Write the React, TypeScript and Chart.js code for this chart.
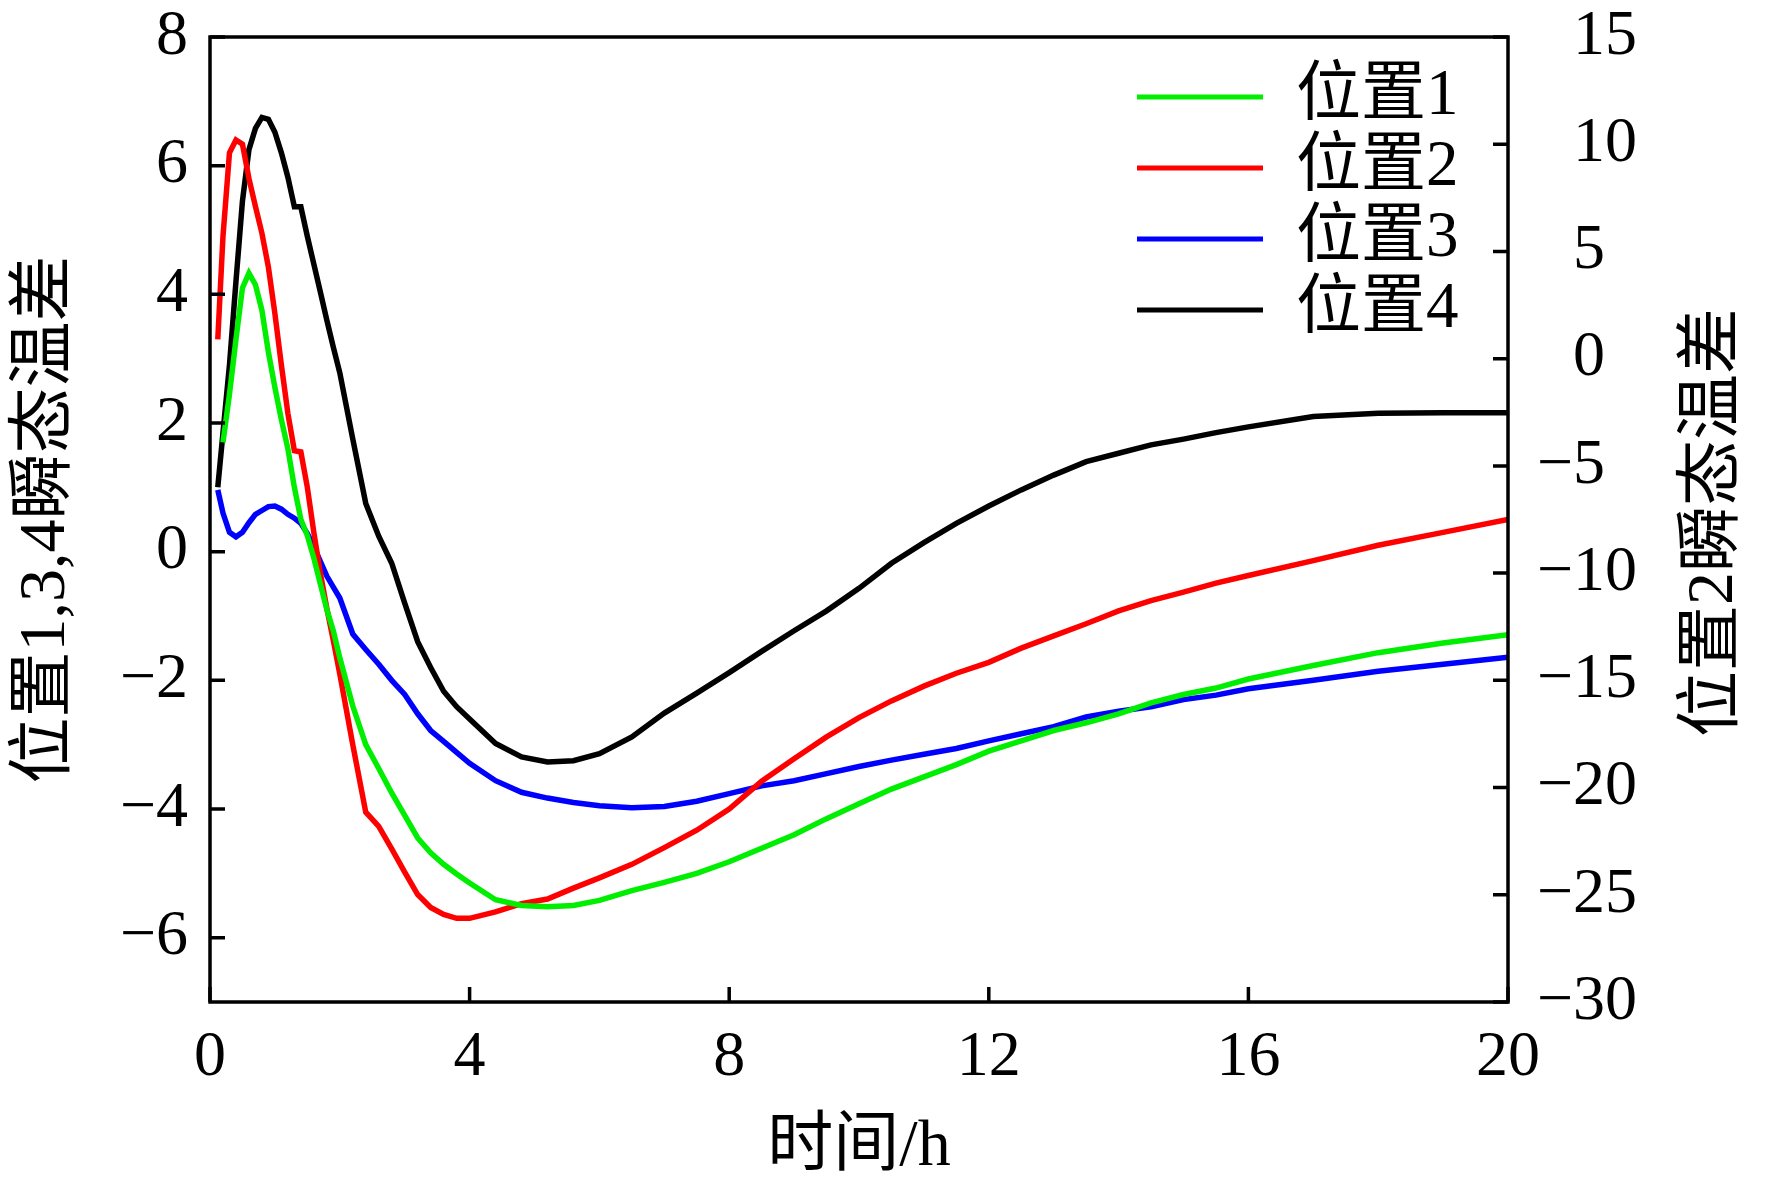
import React, { useEffect, useRef } from 'react';
import { Chart, registerables } from 'chart.js';

Chart.register(...registerables);

// time, h
const hours = [
    0.12, 0.2, 0.3, 0.4, 0.5, 0.6, 0.7, 0.8, 0.9, 1.0, 1.1, 1.2, 1.3, 1.4, 1.5, 1.6, 1.7, 1.8, 1.9, 2.0,
    2.2, 2.4, 2.6, 2.8, 3.0, 3.2, 3.4, 3.6, 3.8, 4.0,
    4.4, 4.8, 5.2, 5.6, 6.0,
    6.5, 7.0, 7.5, 8.0, 8.5, 9.0, 9.5, 10.0, 10.5, 11.0, 11.5, 12.0, 12.5, 13.0, 13.5, 14.0, 14.5, 15.0, 15.5, 16.0,
    17.0, 18.0, 19.0, 20.0,
];

// 位置1 (left axis)
const pos1 = [
    null, 1.7, 2.45, 3.3, 4.1, 4.33, 4.15, 3.75, 3.1, 2.55, 2.05, 1.6, 1.0, 0.5, 0.25, -0.1, -0.5, -0.9, -1.23, -1.65,
    -2.4, -3.0, -3.37, -3.75, -4.1, -4.45, -4.68, -4.86, -5.01, -5.15,
    -5.41, -5.5, -5.52, -5.5, -5.42,
    -5.27, -5.14, -5.0, -4.82, -4.61, -4.4, -4.15, -3.92, -3.69, -3.5, -3.31, -3.1, -2.94, -2.78, -2.66, -2.52, -2.35, -2.22, -2.12, -1.98,
    -1.77, -1.57, -1.42, -1.29,
];

// 位置2 (right axis)
const pos2 = [
    0.9, 5.7, 9.6, 10.2, 10.0, 8.4, 7.1, 5.85, 4.26, 2.1, -0.3, -2.55, -4.29, -4.35, -6.0, -8.1, -10.0, -11.64, -13.14, -14.7,
    -18.0, -21.15, -21.81, -22.86, -23.94, -24.99, -25.59, -25.92, -26.1, -26.1,
    -25.8, -25.41, -25.2, -24.69, -24.21,
    -23.58, -22.8, -21.99, -21.0, -19.7, -18.66, -17.64, -16.74, -15.96, -15.27, -14.67, -14.16, -13.5, -12.93, -12.36, -11.76, -11.28, -10.89, -10.47, -10.11,
    -9.42, -8.7, -8.1, -7.5,
];

// 位置3 (left axis)
const pos3 = [
    0.96, 0.6, 0.3, 0.23, 0.3, 0.45, 0.58, 0.64, 0.7, 0.71, 0.66, 0.58, 0.52, 0.44, 0.28, 0.08, -0.15, -0.38, -0.55, -0.72,
    -1.28, -1.52, -1.75, -2.0, -2.22, -2.52, -2.78, -2.95, -3.12, -3.29,
    -3.56, -3.74, -3.83, -3.9, -3.95,
    -3.98, -3.96, -3.88, -3.76, -3.64, -3.56, -3.45, -3.34, -3.24, -3.15, -3.06, -2.94, -2.83, -2.72, -2.57, -2.48, -2.41, -2.3, -2.23, -2.13,
    -2.0, -1.86, -1.75, -1.64,
];

// 位置4 (left axis)
const pos4 = [
    1.0, 1.85, 2.9, 4.2, 5.45, 6.25, 6.58, 6.75, 6.72, 6.52, 6.2, 5.82, 5.36, 5.36, 4.9, 4.47, 4.04, 3.6, 3.18, 2.78,
    1.75, 0.75, 0.24, -0.18, -0.8, -1.4, -1.8, -2.17, -2.41, -2.6,
    -2.98, -3.19, -3.27, -3.25, -3.14,
    -2.88, -2.51, -2.2, -1.88, -1.55, -1.23, -0.92, -0.57, -0.18, 0.14, 0.44, 0.71, 0.96, 1.19, 1.4, 1.53, 1.66, 1.75, 1.85, 1.94,
    2.1, 2.15, 2.16, 2.16,
];

const seriesNames = ['位置1', '位置2', '位置3', '位置4'];
const seriesColors = ['#00ee00', '#ff0000', '#0000ff', '#000000'];

const SERIF = "'Liberation Serif', 'Noto Sans CJK SC', serif";
const minus = (v: number) => String(v).replace('-', '\u2212');

const toPoints = (vals: (number | null)[]) => hours.map((h, i) => ({ x: h, y: vals[i] }));

// no extra room for half tick labels, the layout padding decides the plot box
const noPad = (s: any) => {
    s.paddingTop = 0;
    s.paddingBottom = 0;
};

const framePlugin = {
    id: 'frameAndLegend',
    afterDraw(chart: any) {
        const { ctx, chartArea: a, scales } = chart;
        ctx.save();
        ctx.strokeStyle = '#000';
        ctx.lineWidth = 3.5;
        ctx.strokeRect(a.left, a.top, a.right - a.left, a.bottom - a.top);

        // inward ticks
        const len = 15;
        ctx.beginPath();
        scales.x.ticks.forEach((t: any) => {
            const px = scales.x.getPixelForValue(t.value);
            ctx.moveTo(px, a.bottom);
            ctx.lineTo(px, a.bottom - len);
        });
        scales.y.ticks.forEach((t: any) => {
            const py = scales.y.getPixelForValue(t.value);
            ctx.moveTo(a.left, py);
            ctx.lineTo(a.left + len, py);
        });
        scales.y2.ticks.forEach((t: any) => {
            const py = scales.y2.getPixelForValue(t.value);
            ctx.moveTo(a.right, py);
            ctx.lineTo(a.right - len, py);
        });
        ctx.stroke();

        // right tick labels, minus sign hangs in front of the digits
        ctx.fillStyle = '#000';
        ctx.font = `64px ${SERIF}`;
        ctx.textBaseline = 'middle';
        scales.y2.ticks.forEach((t: any) => {
            const py = scales.y2.getPixelForValue(t.value);
            const x0 = a.right + 65;
            ctx.textAlign = 'left';
            ctx.fillText(String(Math.abs(t.value)), x0, py);
            if (t.value < 0) {
                ctx.textAlign = 'right';
                ctx.fillText('\u2212', x0, py);
            }
        });

        // right axis title (reads bottom to top)
        ctx.save();
        ctx.translate(a.right + 207, (a.top + a.bottom) / 2 + 3);
        ctx.rotate(-Math.PI / 2);
        ctx.textAlign = 'center';
        ctx.font = `66px ${SERIF}`;
        ctx.fillText('位置2瞬态温差', 0, 0);
        ctx.restore();

        // legend inside the plot
        ctx.font = `65px ${SERIF}`;
        ctx.textAlign = 'left';
        chart.data.datasets.forEach((ds: any, i: number) => {
            const y = a.top + 60 + i * 71;
            ctx.strokeStyle = ds.borderColor;
            ctx.lineWidth = 5;
            ctx.beginPath();
            ctx.moveTo(a.right - 371, y);
            ctx.lineTo(a.right - 245, y);
            ctx.stroke();
            ctx.fillText(ds.label, a.right - 212, y);
        });
        ctx.restore();
    },
};

const App = () => {
    const chartRef = useRef<HTMLCanvasElement | null>(null);

    useEffect(() => {
        document.body.style.margin = '0';
        if (!chartRef.current) return;
        const ctx = chartRef.current.getContext('2d');
        if (!ctx) return;

        const values = [pos1, pos2, pos3, pos4];
        const myChart = new Chart(ctx, {
            type: 'line',
            data: {
                datasets: values.map((v, i) => ({
                    label: seriesNames[i],
                    data: toPoints(v),
                    borderColor: seriesColors[i],
                    backgroundColor: seriesColors[i],
                    borderWidth: 5.5,
                    pointRadius: 0,
                    tension: 0,
                    spanGaps: true,
                    yAxisID: i === 1 ? 'y2' : 'y',
                })),
            },
            options: {
                animation: false,
                responsive: true,
                maintainAspectRatio: false,
                layout: { padding: { top: 37, left: 0, right: 0, bottom: 0 } },
                plugins: { legend: { display: false }, tooltip: { enabled: false } },
                scales: {
                    x: {
                        type: 'linear',
                        min: 0,
                        max: 20,
                        ticks: { stepSize: 4, color: '#000', padding: 18, maxRotation: 0, font: { family: SERIF, size: 64 } },
                        grid: { display: false, drawTicks: false },
                        border: { display: false },
                        title: { display: true, text: '时间/h', color: '#000', font: { family: SERIF, size: 66 }, padding: { top: 0, bottom: 0 } },
                        afterFit: (s: any) => { s.height = 185; },
                    },
                    y: {
                        position: 'left',
                        min: -7,
                        max: 8,
                        ticks: {
                            stepSize: 2,
                            includeBounds: false,
                            color: '#000',
                            padding: 22,
                            font: { family: SERIF, size: 64 },
                            callback: (v: any) => minus(v),
                        },
                        grid: { display: false, drawTicks: false },
                        border: { display: false },
                        title: { display: true, text: '位置1,3,4瞬态温差', color: '#000', font: { family: SERIF, size: 66 }, padding: { top: 7, bottom: 0 } },
                        afterFit: (s: any) => { s.width = 210; noPad(s); },
                    },
                    y2: {
                        position: 'right',
                        min: -30,
                        max: 15,
                        ticks: { stepSize: 5, display: false },
                        grid: { display: false, drawTicks: false },
                        border: { display: false },
                        afterFit: (s: any) => { s.width = 264; noPad(s); },
                    },
                },
            },
            plugins: [framePlugin],
        });

        return () => {
            myChart.destroy();
        };
    }, []);

    return (
        <div style={{ width: '1772px', height: '1187px', position: 'relative', background: '#fff' }}>
            <canvas ref={chartRef}></canvas>
        </div>
    );
};

export default App;
